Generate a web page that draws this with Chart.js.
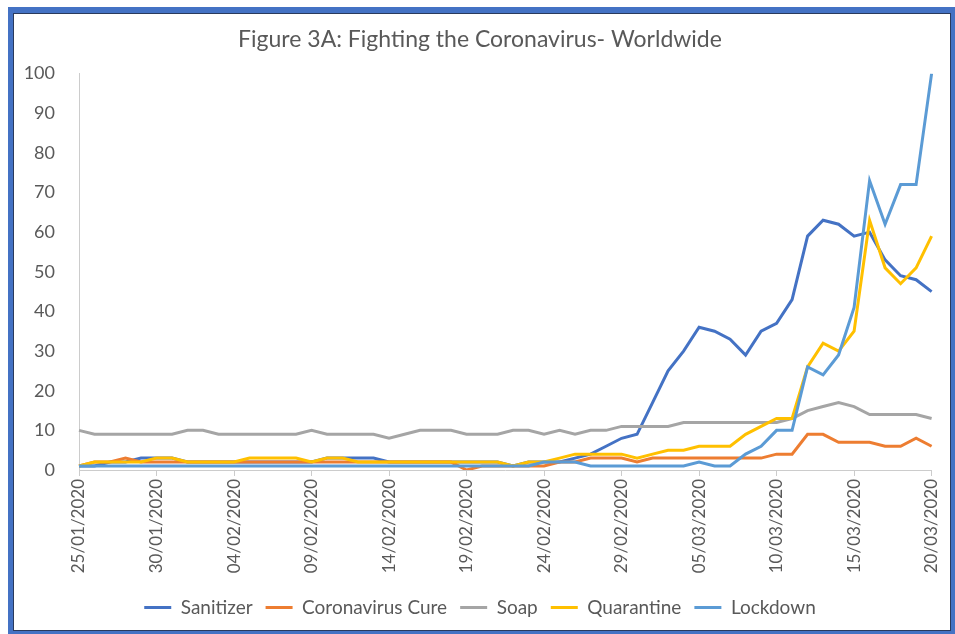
<!DOCTYPE html>
<html>
<head>
<meta charset="utf-8">
<script src="https://cdn.jsdelivr.net/npm/chart.js@4/dist/chart.umd.min.js"></script>
<style>
  html, body { margin: 0; padding: 0; background: #fff; }
  #wrap { position: absolute; left: 0; top: 0; width: 955px; height: 634px; }
  #frame {
    position: absolute; left: 8px; top: 7px; width: 947px; height: 627px;
    box-sizing: border-box;
    border-left: 5px solid #4472C4; border-top: 6px solid #4472C4;
    border-right: 4px solid #4472C4; border-bottom: 3px solid #4472C4;
    box-shadow: inset 1px 1px 0 #2a3a5c, inset -1px -1px 0 #2a3a5c;
    pointer-events: none;
  }
</style>
</head>
<body>
<div id="wrap">
  <canvas id="myChart" width="955" height="634"></canvas>
</div>
<div id="frame"></div>
<script>
var dates = [
  '25/01/2020','26/01/2020','27/01/2020','28/01/2020','29/01/2020','30/01/2020','31/01/2020',
  '01/02/2020','02/02/2020','03/02/2020','04/02/2020','05/02/2020','06/02/2020','07/02/2020',
  '08/02/2020','09/02/2020','10/02/2020','11/02/2020','12/02/2020','13/02/2020','14/02/2020',
  '15/02/2020','16/02/2020','17/02/2020','18/02/2020','19/02/2020','20/02/2020','21/02/2020',
  '22/02/2020','23/02/2020','24/02/2020','25/02/2020','26/02/2020','27/02/2020','28/02/2020',
  '29/02/2020','01/03/2020','02/03/2020','03/03/2020','04/03/2020','05/03/2020','06/03/2020',
  '07/03/2020','08/03/2020','09/03/2020','10/03/2020','11/03/2020','12/03/2020','13/03/2020',
  '14/03/2020','15/03/2020','16/03/2020','17/03/2020','18/03/2020','19/03/2020','20/03/2020'
];

var sanitizer = [1,1,2,2,3,3,3,2,2,2, 2,2,2,2,2,2,3,3,3,3, 2,2,2,2,2,2,2,2,1,2,
                 2,2,3,4,6,8,9,17,25,30, 36,35,33,29,35,37,43,59,63,62, 59,60,53,49,48,45];
var coronavirusCure = [1,2,2,3,2,2,2,2,2,2, 2,2,2,2,2,2,2,2,2,2, 2,2,2,2,2,0,1,1,1,1,
                       1,2,2,3,3,3,2,3,3,3, 3,3,3,3,3,4,4,9,9,7, 7,7,6,6,8,6];
var soap = [10,9,9,9,9,9,9,10,10,9, 9,9,9,9,9,10,9,9,9,9, 8,9,10,10,10,9,9,9,10,10,
            9,10,9,10,10,11,11,11,11,12, 12,12,12,12,12,12,13,15,16,17, 16,14,14,14,14,13];
var quarantine = [1,2,2,2,2,3,3,2,2,2, 2,3,3,3,3,2,3,3,2,2, 2,2,2,2,2,2,2,2,1,2,
                  2,3,4,4,4,4,3,4,5,5, 6,6,6,9,11,13,13,26,32,30, 35,63,51,47,51,59];
var lockdown = [1,1,1,1,1,1,1,1,1,1, 1,1,1,1,1,1,1,1,1,1, 1,1,1,1,1,1,1,1,1,1,
                2,2,2,1,1,1,1,1,1,1, 2,1,1,4,6,10,10,26,24,29, 41,73,62,72,72,100];

var yTicks = [0,10,20,30,40,50,60,70,80,90,100];

var textColor = '#595959';
var axisColor = '#CCCCCC';
var fontFamily = 'Lato, "Open Sans", sans-serif';

function series(label, values, color, order) {
  return {
    label: label,
    data: values,
    borderColor: color,
    backgroundColor: color,
    borderWidth: 3,
    pointRadius: 0,
    tension: 0,
    fill: false,
    order: order
  };
}

var ctx = document.getElementById('myChart').getContext('2d');
var chart = new Chart(ctx, {
  type: 'line',
  data: {
    labels: dates,
    datasets: [
      series('Sanitizer', sanitizer, '#4472C4', 5),
      series('Coronavirus Cure', coronavirusCure, '#ED7D31', 4),
      series('Soap', soap, '#A5A5A5', 3),
      series('Quarantine', quarantine, '#FFC000', 2),
      series('Lockdown', lockdown, '#5B9BD5', 1)
    ]
  },
  options: {
    responsive: false,
    animation: false,
    layout: { padding: { left: 20, right: 15, top: 0, bottom: 7 } },
    plugins: {
      title: {
        display: true,
        text: 'Figure 3A: Fighting the Coronavirus- Worldwide',
        color: textColor,
        font: { family: fontFamily, size: 23, weight: 'normal' },
        padding: { top: 26, bottom: 20 }
      },
      legend: {
        position: 'bottom',
        labels: {
          usePointStyle: true,
          pointStyle: 'line',
          pointStyleWidth: 27,
          padding: 13,
          color: textColor,
          font: { family: fontFamily, size: 19 },
          sort: function(a, b) { return a.datasetIndex - b.datasetIndex; }
        }
      },
      tooltip: { enabled: false }
    },
    scales: {
      x: {
        offset: false,
        grid: { display: true, drawOnChartArea: false, drawTicks: true, tickLength: 6, color: axisColor },
        border: { display: true, color: axisColor, width: 1 },
        ticks: {
          autoSkip: false,
          maxRotation: 90,
          minRotation: 90,
          padding: 3,
          color: textColor,
          font: { family: fontFamily, size: 17 },
          callback: function(val, i) { return i % 5 === 0 ? dates[i] : null; }
        },
        afterFit: function(scale) { scale.height = 115; }
      },
      y: {
        min: 0,
        max: 100,
        afterBuildTicks: function(scale) { scale.ticks = yTicks.map(function(v) { return { value: v }; }); },
        grid: { display: false, drawTicks: false },
        border: { display: true, color: axisColor, width: 1 },
        ticks: {
          padding: 24,
          color: textColor,
          font: { family: fontFamily, size: 18 }
        },
        afterFit: function(scale) { scale.width = 59; }
      }
    }
  }
});
</script>
</body>
</html>
